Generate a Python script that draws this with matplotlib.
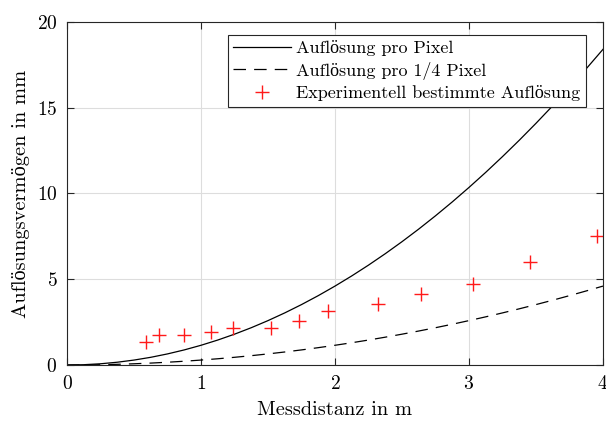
import matplotlib
matplotlib.use("Agg")
import matplotlib.pyplot as plt

plt.rcParams["font.family"] = ["cmr10", "Liberation Serif"]
plt.rcParams["mathtext.fontset"] = "cm"
plt.rcParams["axes.formatter.use_mathtext"] = True

# theoretical curves, values
x_curve = [0, 0.125, 0.25, 0.375, 0.5, 0.625, 0.75, 0.875, 1.0, 1.125, 1.25, 1.375, 1.5,
           1.625, 1.75, 1.875, 2.0, 2.125, 2.25, 2.375, 2.5, 2.625, 2.75, 2.875, 3.0,
           3.125, 3.25, 3.375, 3.5, 3.625, 3.75, 3.875, 4.0]
res_pixel = [0, 0.018, 0.072, 0.162, 0.288, 0.449, 0.647, 0.880, 1.15, 1.455, 1.797, 2.174,
             2.588, 3.037, 3.522, 4.043, 4.6, 5.193, 5.822, 6.487, 7.188, 7.924, 8.697,
             9.505, 10.35, 11.23, 12.147, 13.099, 14.088, 15.112, 16.172, 17.268, 18.4]
res_quarter = [0, 0.004, 0.018, 0.040, 0.072, 0.112, 0.162, 0.220, 0.288, 0.364, 0.449,
               0.544, 0.647, 0.759, 0.880, 1.011, 1.15, 1.298, 1.455, 1.622, 1.797, 1.981,
               2.174, 2.376, 2.588, 2.808, 3.037, 3.275, 3.522, 3.778, 4.043, 4.317, 4.6]

# measured points
x_meas = [0.59, 0.69, 0.876, 1.077, 1.241, 1.522, 1.731, 1.945, 2.321, 2.642, 3.028, 3.458, 3.953]
y_meas = [1.35, 1.75, 1.75, 1.95, 2.15, 2.15, 2.55, 3.15, 3.55, 4.15, 4.75, 6.0, 7.5]

fig = plt.figure(figsize=(6.06, 4.21), dpi=100)
ax = fig.add_axes([0.1106, 0.133, 0.8844, 0.815])

ax.plot(x_curve, res_pixel, color="black", linewidth=0.9, label="Auflösung pro Pixel")
ax.plot(x_curve, res_quarter, color="black", linewidth=0.9, linestyle=(0, (10, 6.5)),
        label="Auflösung pro 1/4 Pixel")
ax.plot(x_meas, y_meas, linestyle="none", marker="+", color="#ff1a1a", markersize=10,
        markeredgewidth=1.0, label="Experimentell bestimmte Auflösung")

ax.set_xlim(0, 4)
ax.set_ylim(0, 20)
ax.set_xticks([0, 1, 2, 3, 4])
ax.set_yticks([0, 5, 10, 15, 20])
ax.set_xlabel("Messdistanz in m", fontsize=14.7, labelpad=6)
ax.set_ylabel("Auflösungsvermögen in mm", fontsize=14.7, labelpad=5)
ax.tick_params(direction="in", top=True, right=True, length=5, width=0.8,
               labelsize=14, color="#262626", pad=7)
ax.grid(color="#dddddd", linewidth=0.8)
ax.set_axisbelow(True)
for s in ax.spines.values():
    s.set_color("#262626")
    s.set_linewidth(0.8)

leg = ax.legend(loc="upper right", bbox_to_anchor=(0.968, 0.962), borderaxespad=0,
                fontsize=13, fancybox=False, edgecolor="#262626", framealpha=1,
                handlelength=3.2, labelspacing=0.3, borderpad=0.3, handletextpad=0.3)
leg.get_frame().set_linewidth(0.8)

plt.savefig("out.png", dpi=100)
